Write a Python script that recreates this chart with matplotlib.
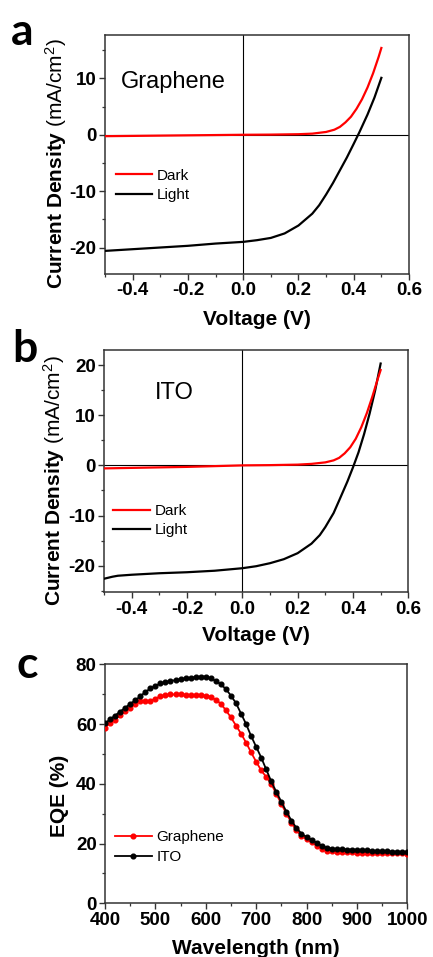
import matplotlib
matplotlib.use("Agg")
import matplotlib.pyplot as plt
from matplotlib.ticker import MultipleLocator

plt.rcParams['font.family'] = ['Liberation Sans', 'DejaVu Sans']
plt.rcParams['mathtext.fontset'] = 'custom'
plt.rcParams['mathtext.rm'] = 'Liberation Sans'
plt.rcParams['mathtext.bf'] = 'Liberation Sans:bold'
plt.rcParams['mathtext.it'] = 'Liberation Sans:italic'

# ---------------- data ----------------
# Panel a: Graphene J-V
gr_dark_v = [-0.5, -0.4, -0.3, -0.2, -0.1, 0.0, 0.1, 0.2, 0.25, 0.3, 0.33, 0.35, 0.37,
             0.39, 0.41, 0.43, 0.45, 0.47, 0.49, 0.5]
gr_dark_j = [-0.25, -0.2, -0.15, -0.1, -0.05, 0.0, 0.03, 0.1, 0.2, 0.5, 0.9, 1.4, 2.2,
             3.2, 4.6, 6.3, 8.4, 10.9, 13.8, 15.4]
gr_light_v = [-0.5, -0.4, -0.3, -0.2, -0.1, 0.0, 0.05, 0.1, 0.15, 0.2, 0.25, 0.275, 0.3,
              0.325, 0.35, 0.375, 0.4, 0.42, 0.45, 0.475, 0.5]
gr_light_j = [-20.6, -20.3, -20.0, -19.7, -19.3, -19.0, -18.7, -18.3, -17.5, -16.1, -14.0,
              -12.5, -10.6, -8.55, -6.3, -4.05, -1.6, 0.4, 3.6, 6.6, 10.1]

# Panel b: ITO J-V
ito_dark_v = [-0.5, -0.4, -0.3, -0.2, -0.1, 0.0, 0.1, 0.2, 0.25, 0.3, 0.33, 0.35, 0.37,
              0.39, 0.41, 0.43, 0.45, 0.47, 0.49, 0.5]
ito_dark_j = [-0.6, -0.5, -0.4, -0.3, -0.15, 0.0, 0.05, 0.15, 0.3, 0.6, 1.0, 1.5, 2.4,
              3.6, 5.3, 7.6, 10.4, 13.7, 17.3, 19.0]
ito_light_v = [-0.5, -0.47, -0.45, -0.4, -0.3, -0.2, -0.1, 0.0, 0.05, 0.1, 0.15, 0.2,
               0.25, 0.28, 0.3, 0.33, 0.35, 0.38, 0.4, 0.42, 0.44, 0.46, 0.48, 0.5]
ito_light_j = [-22.6, -22.2, -22.0, -21.8, -21.5, -21.3, -21.0, -20.5, -20.1, -19.5,
               -18.7, -17.5, -15.6, -13.9, -12.3, -9.5, -7.0, -3.2, -0.4, 2.6, 6.2,
               10.3, 14.9, 20.3]

# Panel c: EQE spectra
wavelength = list(range(400, 1001, 10))
eqe_graphene = [58.7, 60.4, 61.5, 62.9, 64.3, 65.4, 66.8, 67.7, 67.8, 67.7,
                68.5, 69.3, 69.7, 69.9, 69.9, 69.9, 69.8, 69.7, 69.7, 69.6,
                69.5, 69.1, 68.1, 66.8, 64.6, 62.2, 59.5, 56.8, 53.8, 50.5,
                47.4, 44.5, 42.3, 40.0, 36.6, 33.3, 30.0, 27.0, 24.4, 22.6,
                21.5, 20.4, 19.3, 18.3, 17.6, 17.4, 17.3, 17.2, 17.1, 17.1,
                17.0, 17.0, 16.9, 16.9, 16.8, 16.8, 16.8, 16.7, 16.7, 16.7, 16.6]
eqe_ito = [60.2, 61.6, 62.8, 64.2, 65.4, 66.8, 67.9, 69.3, 70.7, 71.9,
           72.8, 73.6, 74.1, 74.4, 74.7, 75.0, 75.3, 75.5, 75.7, 75.9,
           75.9, 75.3, 74.4, 73.3, 71.7, 69.5, 67.0, 63.5, 60.0, 56.0,
           52.4, 48.8, 44.8, 40.8, 37.3, 34.0, 30.7, 27.7, 25.2, 23.3,
           22.2, 21.3, 20.3, 19.3, 18.6, 18.3, 18.2, 18.1, 18.0, 18.0,
           17.9, 17.8, 17.7, 17.6, 17.5, 17.5, 17.4, 17.3, 17.3, 17.2, 17.2]

# ---------------- figure ----------------
W, H = 433, 957
fig = plt.figure(figsize=(W / 100, H / 100), dpi=100)


def axes_px(left, top, right, bottom):
    return fig.add_axes([left / W, 1 - bottom / H, (right - left) / W, (bottom - top) / H])


TICK_FS = 13.5
LABEL_FS = 15
SPINE_C = '#333333'


def style(ax):
    for s in ax.spines.values():
        s.set_color(SPINE_C)
        s.set_linewidth(1.1)
    ax.tick_params(which='both', direction='out', top=False, right=False,
                   colors=SPINE_C, labelcolor='black')
    ax.tick_params(which='major', length=4, width=1.0, pad=2, labelsize=TICK_FS)
    ax.tick_params(which='minor', length=2.5, width=0.9)
    for lab in ax.get_xticklabels() + ax.get_yticklabels():
        lab.set_fontweight('bold')


ylab = r'$\mathbf{Current\ Density}$ (mA/cm$^2$)'
LEG_KW = dict(loc='upper left', frameon=False, fontsize=11, handlelength=2.4,
              handletextpad=0.3, labelspacing=0.36, borderpad=0, borderaxespad=0)
YLAB_X = -0.12

# ---- panel a ----
ax1 = axes_px(105, 35, 409, 274)
ax1.axhline(0, color='black', lw=0.8, zorder=1)
ax1.axvline(0, color='black', lw=0.8, zorder=1)
ax1.plot(gr_dark_v, gr_dark_j, color='#ff0000', lw=1.6, label='Dark', zorder=3)
ax1.plot(gr_light_v, gr_light_j, color='black', lw=1.6, label='Light', zorder=3)
ax1.set_xlim(-0.5, 0.6)
ax1.set_ylim(-24.7, 17.7)
ax1.xaxis.set_minor_locator(MultipleLocator(0.1))
ax1.yaxis.set_minor_locator(MultipleLocator(5))
ax1.set_xticks([-0.4, -0.2, 0.0, 0.2, 0.4, 0.6])
ax1.set_xticklabels(['-0.4', '-0.2', '0.0', '0.2', '0.4', '0.6'])
ax1.set_yticks([-20, -10, 0, 10])
ax1.set_yticklabels(['-20', '-10', '0', '10'])
style(ax1)
ax1.set_xlabel('Voltage (V)', fontsize=LABEL_FS, fontweight='bold')
ax1.xaxis.set_label_coords(0.5, -0.15)
ax1.set_ylabel(ylab, fontsize=LABEL_FS)
ax1.yaxis.set_label_coords(YLAB_X, 0.46)
ax1.text(0.052, 0.78, 'Graphene', transform=ax1.transAxes, fontsize=17, va='baseline')
ax1.legend(bbox_to_anchor=(0.035, 0.44), **LEG_KW)

# ---- panel b ----
ax2 = axes_px(104, 350, 408.3, 592.3)
ax2.axhline(0, color='black', lw=0.8, zorder=1)
ax2.axvline(0, color='black', lw=0.8, zorder=1)
ax2.plot(ito_dark_v, ito_dark_j, color='#ff0000', lw=1.6, label='Dark', zorder=4)
ax2.plot(ito_light_v, ito_light_j, color='black', lw=1.6, label='Light', zorder=3)
ax2.set_xlim(-0.5, 0.6)
ax2.set_ylim(-25.3, 23)
ax2.xaxis.set_minor_locator(MultipleLocator(0.1))
ax2.yaxis.set_minor_locator(MultipleLocator(5))
ax2.set_xticks([-0.4, -0.2, 0.0, 0.2, 0.4, 0.6])
ax2.set_xticklabels(['-0.4', '-0.2', '0.0', '0.2', '0.4', '0.6'])
ax2.set_yticks([-20, -10, 0, 10, 20])
ax2.set_yticklabels(['-20', '-10', '0', '10', '20'])
style(ax2)
ax2.set_xlabel('Voltage (V)', fontsize=LABEL_FS, fontweight='bold')
ax2.xaxis.set_label_coords(0.5, -0.14)
ax2.set_ylabel(ylab, fontsize=LABEL_FS)
ax2.yaxis.set_label_coords(YLAB_X, 0.46)
ax2.text(0.168, 0.797, 'ITO', transform=ax2.transAxes, fontsize=17, va='baseline')
ax2.legend(bbox_to_anchor=(0.03, 0.365), **LEG_KW)

# ---- panel c ----
ax3 = axes_px(105, 664.3, 407.3, 903.3)
ax3.plot(wavelength, eqe_graphene, color='#ff0000', lw=1.3, marker='o', ms=3.4,
         label='Graphene', zorder=3)
ax3.plot(wavelength, eqe_ito, color='black', lw=1.3, marker='o', ms=3.4,
         label='ITO', zorder=4)
ax3.set_xlim(400, 1000)
ax3.set_ylim(0, 80)
ax3.xaxis.set_minor_locator(MultipleLocator(50))
ax3.yaxis.set_minor_locator(MultipleLocator(10))
ax3.set_xticks([400, 500, 600, 700, 800, 900, 1000])
ax3.set_xticklabels(['400', '500', '600', '700', '800', '900', '1000'])
ax3.set_yticks([0, 20, 40, 60, 80])
ax3.set_yticklabels(['0', '20', '40', '60', '80'])
style(ax3)
ax3.set_xlabel('Wavelength (nm)', fontsize=LABEL_FS, fontweight='bold')
ax3.xaxis.set_label_coords(0.5, -0.15)
ax3.set_ylabel('EQE (%)', fontsize=LABEL_FS, fontweight='bold')
ax3.yaxis.set_label_coords(YLAB_X, 0.45)
ax3.legend(bbox_to_anchor=(0.033, 0.305), numpoints=1, **LEG_KW)

# ---- panel letters ----
for ch, x, y in [('a', 11, 45), ('b', 12, 362), ('c', 16, 678)]:
    fig.text(x / W, 1 - y / H, ch, fontsize=32, fontweight='bold',
             family=['Lato', 'DejaVu Sans'], va='baseline', ha='left')

fig.savefig('out.png', dpi=100)
